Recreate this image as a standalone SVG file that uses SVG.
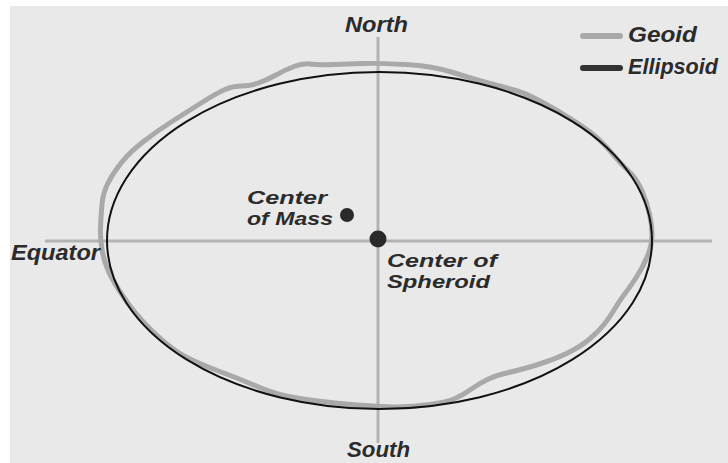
<svg xmlns="http://www.w3.org/2000/svg" width="728" height="463" viewBox="0 0 728 463">
<style>
.lbl{font-family:"Liberation Sans",Arial,sans-serif;font-weight:bold;font-style:italic;font-size:22px;fill:#2b2b2b}
.sm{font-size:19px}
.axis{stroke:#b3b3b3;stroke-width:3;fill:none}
.geoid{stroke:#a9a9a9;stroke-width:5;fill:none;stroke-linejoin:round}
.ell{stroke:#111;stroke-width:2;fill:none}
.dot{fill:#2a2a2a}
</style>
<rect x="0" y="0" width="728" height="463" fill="#ffffff"/>
<rect x="10" y="6" width="718" height="457" fill="#e9e9e9"/>
<g id="connectors">
<line class="axis" x1="378" y1="37" x2="378" y2="443"/>
<line class="axis" x1="45" y1="241" x2="712" y2="241"/>
</g>
<g id="geoid">
<path class="geoid" d="M100.5,227.5 Q101,215 102,204 Q103,193 108,183 Q113,173 121.5,162.5 Q130,152 143.5,141.5 Q157,131 173.5,120.5 Q190,110 203.5,101.5 Q217,93 225,89.5 Q233,86 241.5,86 Q250,86 258.5,83 Q267,80 276,75 Q285,70 294,66.5 Q303,63 310,64 Q317,65 333.5,64.5 Q350,64 364,63.5 Q378,63 405.5,64.5 Q433,66 453,72.5 Q473,79 490,83.5 Q507,88 516,90.5 Q525,93 541,101.5 Q557,110 573.5,120.5 Q590,131 598.5,139 Q607,147 613.5,155 Q620,163 628.5,171 Q637,179 642,191 Q647,203 649.5,214 Q652,225 652,235 Q652,245 647.5,256 Q643,267 636.5,277 Q630,287 625,293.5 Q620,300 615,308.5 Q610,317 604,324.5 Q598,332 589,339.5 Q580,347 566.5,353.5 Q553,360 536.5,365 Q520,370 508.5,372.5 Q497,375 488.5,379 Q480,383 471.5,389 Q463,395 455,398.5 Q447,402 430,404.5 Q413,407 396.5,407 Q380,407 351.5,404.5 Q323,402 300,398.5 Q277,395 258.5,387 Q240,379 218.5,371 Q197,363 185,356.5 Q173,350 156.5,335 Q140,320 128.5,304 Q117,288 111,276.5 Q105,265 102.5,252.5 Q100,240 100.5,227.5 Z"/>
</g>
<g id="ellipsoid">
<ellipse class="ell" cx="379.5" cy="240.5" rx="272.5" ry="168.5"/>
</g>
<g id="center-of-mass">
<circle class="dot" cx="347" cy="215" r="7"/>
<text class="lbl sm" x="247" y="204" textLength="80" lengthAdjust="spacingAndGlyphs">Center</text>
<text class="lbl sm" x="247" y="225" textLength="86" lengthAdjust="spacingAndGlyphs">of Mass</text>
</g>
<g id="center-of-spheroid">
<circle class="dot" cx="378" cy="239" r="8.5"/>
<text class="lbl sm" x="387" y="267" textLength="110" lengthAdjust="spacingAndGlyphs">Center of</text>
<text class="lbl sm" x="387" y="288" textLength="103" lengthAdjust="spacingAndGlyphs">Spheroid</text>
</g>
<g id="labels">
<text class="lbl" x="345" y="32" textLength="63" lengthAdjust="spacingAndGlyphs">North</text>
<text class="lbl" x="347" y="457" textLength="63" lengthAdjust="spacingAndGlyphs">South</text>
<text class="lbl" x="11" y="260" textLength="89" lengthAdjust="spacingAndGlyphs">Equator</text>
</g>
<g id="legend">
<line x1="583" y1="36" x2="620" y2="36" stroke="#a9a9a9" stroke-width="6" stroke-linecap="round"/>
<text class="lbl" x="628" y="42" textLength="69" lengthAdjust="spacingAndGlyphs">Geoid</text>
<line x1="583" y1="68" x2="620" y2="68" stroke="#333" stroke-width="6" stroke-linecap="round"/>
<text class="lbl" x="628" y="74" textLength="90" lengthAdjust="spacingAndGlyphs">Ellipsoid</text>
</g>
</svg>
